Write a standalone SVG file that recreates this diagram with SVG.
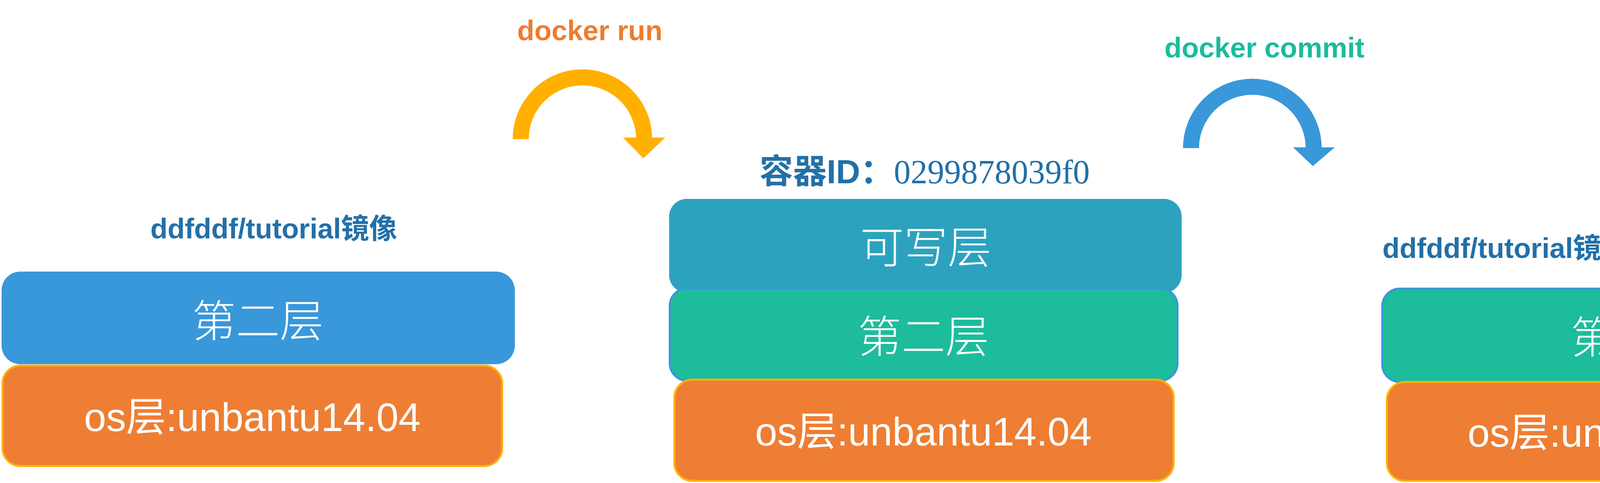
<svg xmlns="http://www.w3.org/2000/svg" width="5001" height="1236" viewBox="0 0 5001 1236">
<style>
.bg{fill:#ffffff}
.blue{fill:#3898DA}
.teal{fill:#2DA2BF}
.green{fill:#1CBC9C;stroke:#3A97D9;stroke-width:5}
.orange{fill:#EE7E33;stroke:#FFB000;stroke-width:5}
.cjk{font-family:"Noto Sans CJK SC","Liberation Sans",sans-serif;font-size:112px;fill:#ffffff;text-anchor:middle;font-weight:300}
.os{font-family:"Liberation Sans","Noto Sans CJK SC",sans-serif;font-size:102px;fill:#ffffff;text-anchor:middle}
.title{font-family:"Liberation Sans","Noto Sans CJK SC",sans-serif;font-size:72px;font-weight:bold;fill:#2270A8;text-anchor:middle}
.cmd{font-family:"Liberation Sans",sans-serif;font-size:72px;font-weight:bold;text-anchor:middle}
.arc{fill:none;stroke-width:41;stroke-linecap:butt}
</style>
<rect class="bg" x="0" y="0" width="5001" height="1236"/>

<g id="connectors">
  <g id="docker-run">
    <text class="cmd" x="1510" y="103" fill="#ED7D31">docker run</text>
    <path class="arc" stroke="#FFB000" d="M1333,356 A158,158 0 0 1 1649,356"/>
    <polygon fill="#FFB000" points="1595,352 1703,352 1647,405"/>
  </g>
  <g id="docker-commit">
    <text class="cmd" x="3237" y="147" fill="#1ABC9C">docker commit</text>
    <path class="arc" stroke="#3898DA" d="M3049,379 A157,157 0 0 1 3363,379"/>
    <polygon fill="#3898DA" points="3310,377 3417,377 3361,425"/>
  </g>
</g>

<g id="image-tutorial">
  <text class="title" x="701" y="610">ddfddf/tutorial镜像</text>
  <g id="left-layer2">
    <rect class="blue" x="4" y="695" width="1314" height="237" rx="48" ry="48"/>
    <text class="cjk" x="660" y="862">第二层</text>
  </g>
  <g id="left-os">
    <rect class="orange" x="6.5" y="935.5" width="1279" height="257" rx="46" ry="46"/>
    <text class="os" x="646" y="1103">os层:unbantu14.04</text>
  </g>
</g>

<g id="container">
  <text x="2367" y="469" text-anchor="middle" fill="#2270A8" font-size="86px"><tspan font-family="'Noto Sans CJK SC',sans-serif" font-weight="bold">容器</tspan><tspan font-family="'Liberation Sans',sans-serif" font-weight="bold">ID</tspan><tspan font-family="'Noto Sans CJK SC',sans-serif" font-weight="bold">：</tspan><tspan font-family="'Liberation Serif',serif">0299878039f0</tspan></text>
  <g id="mid-writable">
    <rect class="teal" x="1713" y="509" width="1312" height="240" rx="45" ry="45"/>
    <text class="cjk" x="2370" y="674">可写层</text>
  </g>
  <g id="mid-layer2">
    <rect class="green" x="1714.5" y="737.5" width="1300" height="237" rx="45" ry="45"/>
    <text class="cjk" x="2364" y="902">第二层</text>
  </g>
  <g id="mid-os">
    <rect class="orange" x="1726.5" y="971.5" width="1278" height="259" rx="46" ry="46"/>
    <text class="os" x="2364" y="1140">os层:unbantu14.04</text>
  </g>
</g>

<g id="image-ping">
  <text class="title" x="4517" y="458">ddfddf/ping镜像</text>
  <text class="title" x="3855" y="660">ddfddf/tutorial镜像</text>
  <g id="right-layer3">
    <rect class="teal" x="4188" y="501" width="662" height="244" rx="45" ry="45"/>
    <text class="cjk" x="4519" y="669">第三层</text>
  </g>
  <g id="right-layer2">
    <rect class="green" x="3538.5" y="738.5" width="1306" height="239" rx="45" ry="45"/>
    <text class="cjk" x="4189" y="904">第二层</text>
  </g>
  <g id="right-os">
    <rect class="orange" x="3550.5" y="977.5" width="1277" height="253" rx="46" ry="46"/>
    <text class="os" x="4188" y="1143">os层:unbantu14.04</text>
  </g>
  <text x="4748" y="1222" font-family="'Liberation Sans',sans-serif" font-size="17px" fill="#ffffff" fill-opacity="0.6">https://blog</text>
</g>
</svg>
